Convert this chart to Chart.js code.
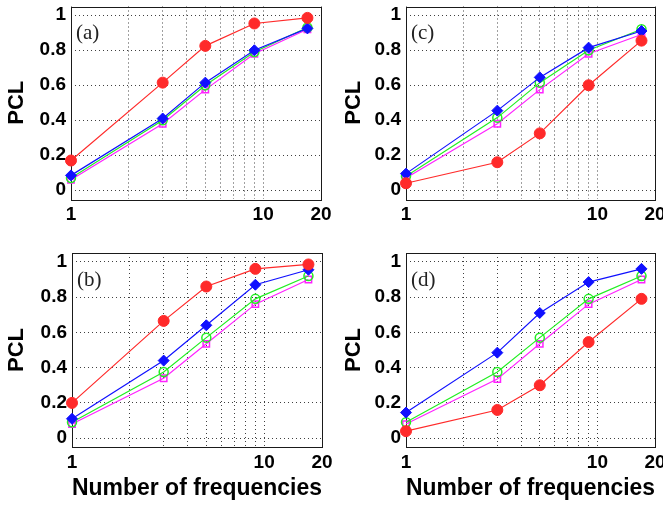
<!DOCTYPE html>
<html>
<head>
<meta charset="utf-8">
<script src="https://cdn.jsdelivr.net/npm/chart.js@4.4.0/dist/chart.umd.min.js"></script>
<style>
  body { margin: 0; background: #fff; }
  #figura { position: relative; width: 663px; height: 505px; overflow: hidden; background: #fff; }
  #figura canvas { position: absolute; }
</style>
</head>
<body>
<div id="figura">
  <canvas id="panelA" width="340" height="240" style="left:0px;top:0px"></canvas>
  <canvas id="panelC" width="333" height="240" style="left:330px;top:0px"></canvas>
  <canvas id="panelB" width="340" height="265" style="left:0px;top:240px"></canvas>
  <canvas id="panelD" width="333" height="265" style="left:330px;top:240px"></canvas>
</div>
<script>
const frequencies = [1, 3, 5, 9, 17]
const xGridValues = [1, 2, 3, 4, 5, 6, 7, 8, 9, 10, 20]
const xTickLabels = [1, 10, 20]
const yTickValues = [0, 0.2, 0.4, 0.6, 0.8, 1]
const yAxisTitle = 'PCL'
const xAxisTitle = 'Number of frequencies'

const redA = [0.17, 0.615, 0.825, 0.953, 0.985]
const blueA = [0.085, 0.41, 0.615, 0.80, 0.925]
const greenA = [0.07, 0.40, 0.60, 0.79, 0.93]
const magentaA = [0.06, 0.38, 0.575, 0.78, 0.92]

const redB = [0.20, 0.665, 0.86, 0.96, 0.985]
const blueB = [0.11, 0.44, 0.64, 0.87, 0.955]
const greenB = [0.09, 0.375, 0.57, 0.79, 0.92]
const magentaB = [0.08, 0.34, 0.535, 0.76, 0.90]

const redC = [0.04, 0.16, 0.325, 0.60, 0.855]
const blueC = [0.095, 0.455, 0.645, 0.815, 0.91]
const greenC = [0.08, 0.415, 0.615, 0.80, 0.92]
const magentaC = [0.07, 0.38, 0.575, 0.78, 0.89]

const redD = [0.04, 0.16, 0.30, 0.545, 0.79]
const blueD = [0.145, 0.485, 0.71, 0.885, 0.96]
const greenD = [0.09, 0.375, 0.57, 0.79, 0.92]
const magentaD = [0.08, 0.335, 0.535, 0.76, 0.90]

const sansFont = "'Liberation Sans', Arial, sans-serif"

// layout of each panel inside its own canvas (pixels)
const panels = [
  { canvas: 'panelA', label: '(a)', red: redA, blue: blueA, green: greenA, magenta: magentaA,
    top: 5, right: 19, axisWidth: 71, axisHeight: 41, titlePad: 3.8, showXTitle: false },
  { canvas: 'panelC', label: '(c)', red: redC, blue: blueC, green: greenC, magenta: magentaC,
    top: 5, right: 8, axisWidth: 76, axisHeight: 41, titlePad: 10.8, showXTitle: false },
  { canvas: 'panelB', label: '(b)', red: redB, blue: blueB, green: greenB, magenta: magentaB,
    top: 13, right: 18, axisWidth: 72, axisHeight: 58, titlePad: 3.8, showXTitle: true },
  { canvas: 'panelD', label: '(d)', red: redD, blue: blueD, green: greenD, magenta: magentaD,
    top: 13, right: 8, axisWidth: 76, axisHeight: 58, titlePad: 10.8, showXTitle: true }
]

const boxPlugin = {
  id: 'box',
  beforeDatasetsDraw(chart, args, opts) {
    const { ctx, chartArea: a } = chart
    ctx.save()
    ctx.strokeStyle = '#1a1a1a'
    ctx.lineWidth = 1
    ctx.strokeRect(Math.round(a.left) + 0.5, Math.round(a.top) + 0.5, Math.round(a.width), Math.round(a.height))
    ctx.font = "21px 'Liberation Serif', 'Times New Roman', serif"
    ctx.fillStyle = '#222'
    ctx.textBaseline = 'middle'
    ctx.fillText(opts.text, a.left + 5, a.top + 27)
    ctx.restore()
  }
}

function serie(values, color, style, filled, radius) {
  return {
    data: frequencies.map((f, i) => ({ x: f, y: values[i] })),
    borderColor: color,
    backgroundColor: filled ? color : 'rgba(0,0,0,0)',
    pointBackgroundColor: filled ? color : 'rgba(0,0,0,0)',
    pointBorderColor: color,
    pointStyle: style,
    pointRadius: radius,
    pointBorderWidth: filled ? 1 : 1.5,
    borderWidth: 1.2,
    tension: 0,
    clip: false
  }
}

panels.forEach(p => {
  const canvasElement = document.getElementById(p.canvas)
  new Chart(canvasElement, {
    type: 'line',
    data: {
      datasets: [
        serie(p.red, '#ff2a2a', 'circle', true, 5.5),
        serie(p.blue, '#1010ff', 'rectRot', true, 5.5),
        serie(p.green, '#22ee22', 'circle', false, 4.5),
        serie(p.magenta, '#ff22ff', 'rect', false, 4.5)
      ]
    },
    plugins: [boxPlugin],
    options: {
      responsive: false,
      devicePixelRatio: 1,
      animation: false,
      events: [],
      layout: { padding: { top: p.top, right: p.right, left: 0, bottom: 0 } },
      plugins: {
        legend: { display: false },
        tooltip: { enabled: false },
        box: { text: p.label }
      },
      scales: {
        x: {
          type: 'logarithmic',
          min: 1,
          max: 20,
          afterBuildTicks: s => { s.ticks = xGridValues.map(v => ({ value: v })) },
          afterFit: s => { s.height = p.axisHeight; s.paddingLeft = 0; s.paddingRight = 0 },
          ticks: {
            autoSkip: false,
            maxRotation: 0,
            padding: 4,
            color: '#000',
            font: { family: sansFont, size: 19, weight: 'bold' },
            callback: v => xTickLabels.includes(v) ? String(v) : ''
          },
          grid: { color: 'rgba(0,0,0,0.75)', lineWidth: 1, drawTicks: false },
          border: { display: false, dash: [1, 3] },
          title: {
            display: p.showXTitle,
            text: xAxisTitle,
            color: '#000',
            padding: { top: 0, bottom: 2.6 },
            font: { family: sansFont, size: 24, weight: 'bold' }
          }
        },
        y: {
          min: -0.05,
          max: 1.05,
          afterBuildTicks: s => { s.ticks = yTickValues.map(v => ({ value: v })) },
          afterFit: s => { s.width = p.axisWidth; s.paddingTop = 0; s.paddingBottom = 0 },
          ticks: {
            padding: 5,
            color: '#000',
            font: { family: sansFont, size: 19, weight: 'bold' },
            callback: v => String(v)
          },
          grid: { color: 'rgba(0,0,0,0.75)', lineWidth: 1, drawTicks: false },
          border: { display: false, dash: [1, 3] },
          title: {
            display: true,
            text: yAxisTitle,
            color: '#000',
            padding: { top: p.titlePad, bottom: 0 },
            font: { family: sansFont, size: 22, weight: 'bold' }
          }
        }
      }
    }
  })
})
</script>
</body>
</html>
